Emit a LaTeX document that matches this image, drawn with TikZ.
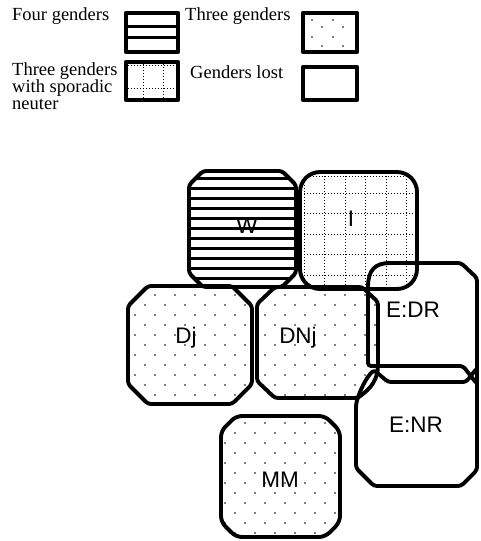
\documentclass[tikz,border=0pt]{standalone}
\usepackage{fontspec}
\setmainfont{Liberation Serif}
\newfontfamily\labfont{Liberation Sans}
\newcommand\octp[5]{(#1+#5,#2) -- (#3-#5,#2) -- (#3,#2+#5) -- (#3,#4-#5) -- (#3-#5,#4) -- (#1+#5,#4) -- (#1,#4-#5) -- (#1,#2+#5) -- cycle}
\newcommand\dnjpath{(275,287) -- (362,287) -- (378,302) -- (378,364) .. controls (377,385) and (365,392) .. (358,398) -- (275,398) -- (257,381) -- (257,304) -- cycle}
\newcommand\edrpath{(368,366) -- (368,290) .. controls (368,270) and (375,263) .. (393,263) -- (461,263) -- (477,278) -- (477,384) -- (463,366) -- cycle}
\newcommand\enrpath{(388,382) -- (466,382) -- (477,368) -- (477,470) -- (461,486) -- (374,486) -- (356,468) -- (356,404) .. controls (360,390) and (366,378) .. (374,370) -- cycle}
\begin{document}
\begin{tikzpicture}[x=1pt,y=-1pt,line join=round,
  outl/.style={line width=3.9pt, rounded corners=3pt},
  lab/.style={font=\labfont\fontsize{22.5}{22.5}\selectfont, inner sep=0pt, anchor=base},
  leg/.style={font=\fontsize{18.5}{16.5}\selectfont, inner sep=0pt, anchor=base west},
  legbox/.style={line width=4.4pt},
  dotg/.style={line width=1pt, dash pattern=on 1pt off 2pt},
  stripe/.style={line width=3pt},
  dotc/.style={fill=black}
]
\useasboundingbox (0,0) rectangle (480,541);

% ---------- legend ----------
\node[leg] (t4) at (12,20) {Four genders};
\node[leg] (t3) at (185,20) {Three genders};
\node[leg, anchor=north west, align=left] (ts) at (12,62) {Three genders\\with sporadic\\neuter};
\node[leg] (tl) at (190,78) {Genders lost};

\draw[stripe] (126,26.5) -- (178,26.5) (126,37) -- (178,37);
\draw[legbox] (126,13) rectangle (178,52);

\foreach \p in {(312,37),(322,27),(333,37),(343,27),(322,46),(343,46),(312,20),(333,20)}
  \fill[dotc] \p circle (0.8);
\draw[legbox] (303,13) rectangle (357,52);

\draw[dotg] (143,64) -- (143,98) (163,64) -- (163,98) (128,88) -- (176,88) (128,65.5) -- (176,65.5);
\draw[legbox] (126,62) rectangle (178,100);

\draw[legbox] (303,67) rectangle (357,100);

% ---------- W ----------
\begin{scope}
  \clip \octp{189}{171}{296}{287}{14};
  \foreach \yy in {178,188,...,278} \draw[stripe] (180,\yy) -- (300,\yy);
\end{scope}
\draw[outl] \octp{189}{171}{296}{287}{14};

% ---------- I ----------
\begin{scope}
  \clip[rounded corners=20pt] (300,172) rectangle (417,289);
  \foreach \xx in {304,324.5,...,417} \draw[dotg] (\xx,170) -- (\xx,292);
  \foreach \yy in {176,193,213.5,234,254.5,275} \draw[dotg] (298,\yy) -- (420,\yy);
\end{scope}
\draw[outl,rounded corners=20pt] (300,172) rectangle (417,289);

% ---------- Dj ----------
\begin{scope}
  \clip \octp{128}{286}{252}{404}{20};
  \foreach \yy [count=\rr] in {295,305,...,405}
    \foreach \xx in {125,145,...,255}
      \fill[dotc] ({\xx+mod(\rr,2)*10},\yy) circle (0.8);
\end{scope}
\draw[outl] \octp{128}{286}{252}{404}{20};

% ---------- DNj ----------
\begin{scope}
  \clip \dnjpath;
  \foreach \yy [count=\rr] in {295,305,...,405}
    \foreach \xx in {255,275,...,385}
      \fill[dotc] ({\xx+mod(\rr,2)*10},\yy) circle (0.8);
\end{scope}
\draw[outl] \dnjpath;

% ---------- MM ----------
\begin{scope}
  \clip \octp{221}{416}{340}{537}{15};
  \foreach \yy [count=\rr] in {423,433,...,535}
    \foreach \xx in {215,235,...,345}
      \fill[dotc] ({\xx+mod(\rr,2)*10},\yy) circle (0.8);
\end{scope}
\draw[outl,rounded corners=6pt] \octp{221}{416}{340}{537}{15};

% ---------- E:DR, E:NR ----------
\draw[outl] \edrpath;
\draw[outl] \enrpath;

% ---------- labels ----------
\node[lab] (lW) at (247,233) {W};
\node[lab] (lI) at (351,226) {I};
\node[lab] (lDj) at (186,343) {Dj};
\node[lab] (lDNj) at (298,343) {DNj};
\node[lab] (lEDR) at (413,317) {E:DR};
\node[lab] (lENR) at (416,432) {E:NR};
\node[lab] (lMM) at (280,487) {MM};
\end{tikzpicture}
\end{document}
